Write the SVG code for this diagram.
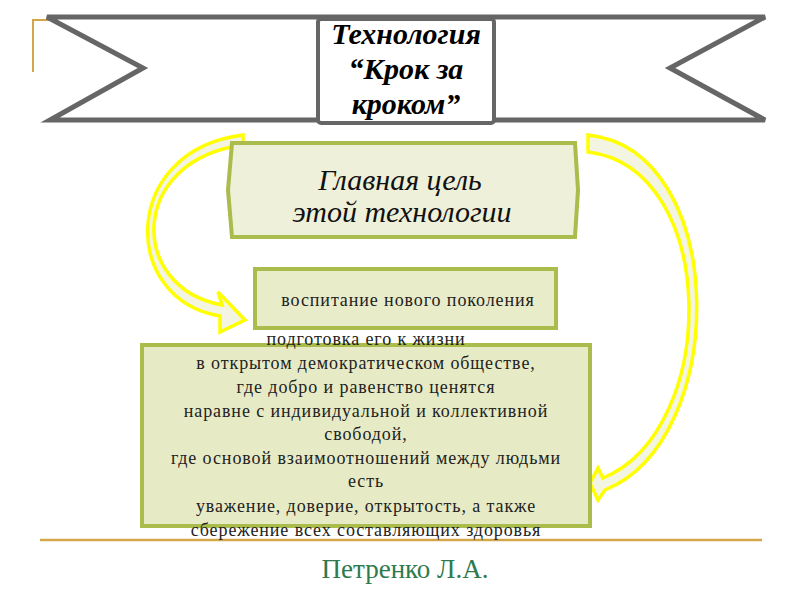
<svg xmlns="http://www.w3.org/2000/svg" width="800" height="600" viewBox="0 0 800 600">
<style>
.ribbon{fill:#fff;stroke:#666;stroke-width:5;stroke-linejoin:miter}
.title{font-family:"Liberation Serif",serif;font-weight:bold;font-style:italic;font-size:30px;fill:#000;text-anchor:middle}
.box{stroke:#a9bc4c;stroke-width:4}
.goal{font-family:"Liberation Serif",serif;font-style:italic;font-size:30px;fill:#111;text-anchor:middle}
.body{font-family:"Liberation Serif",serif;font-size:18px;letter-spacing:0.9px;fill:#222;text-anchor:middle}
.arrow{fill:#f3f4e2;stroke:#ffff00;stroke-width:3.5;stroke-linejoin:miter}
.gold{stroke:#d4a64a;fill:none}
</style>
<g id="frame">
<polyline class="gold" stroke-width="2" points="55,20 33,20 33,72"/>
<line class="gold" stroke-width="2.5" x1="40" y1="540" x2="762" y2="540"/>
</g>
<g id="ribbon">
<path class="ribbon" d="M47,17 L765,17 L670,68 L765,120 L50,120 L143,68 Z"/>
<rect x="318" y="19" width="176" height="104" rx="3" fill="#fff" stroke="#666" stroke-width="4"/>
<text class="title" x="406" y="44">Технология</text>
<text class="title" x="406" y="79">“Крок за</text>
<text class="title" x="406" y="114">кроком”</text>
</g>
<g id="connectors">
<path class="arrow" d="M243,135 C120,150 120,300 220,316 L220,332 L245,320 L218,292 L222,305 C128,288 128,160 243,145 Z"/>
<path class="arrow" d="M588,135 C730,150 730,440 605,490 L598,500 L590,483 L598,468 L603,478 C720,430 720,168 588,152 Z"/>
</g>
<g id="goal">
<path class="box" fill="#eef0da" d="M232,143 L575,143 L578,190 L575,237 L232,237 L228,190 Z"/>
<text class="goal" x="400" y="190">Главная цель</text>
<text class="goal" x="402" y="222">этой технологии</text>
</g>
<g id="upbringing">
<rect class="box" fill="#e9ecc9" x="255" y="269" width="301" height="59"/>
<text class="body" x="408" y="306">воспитание нового поколения</text>
</g>
<g id="details">
<rect class="box" fill="#e7ebc5" x="142" y="345" width="448" height="181"/>
<text class="body" x="366" y="345">подготовка его к жизни</text>
<text class="body" x="366" y="369">в открытом демократическом обществе,</text>
<text class="body" x="366" y="393">где добро и равенство ценятся</text>
<text class="body" x="366" y="417">наравне с индивидуальной и коллективной</text>
<text class="body" x="366" y="440">свободой,</text>
<text class="body" x="366" y="464">где основой взаимоотношений между людьми</text>
<text class="body" x="366" y="487">есть</text>
<text class="body" x="366" y="512">уважение, доверие, открытость, а также</text>
<text class="body" x="366" y="536">сбережение всех составляющих здоровья</text>
</g>
<g id="author">
<text x="405" y="578" font-family="Liberation Serif, serif" font-size="27" fill="#2e7a4c" text-anchor="middle">Петренко Л.А.</text>
</g>
</svg>
